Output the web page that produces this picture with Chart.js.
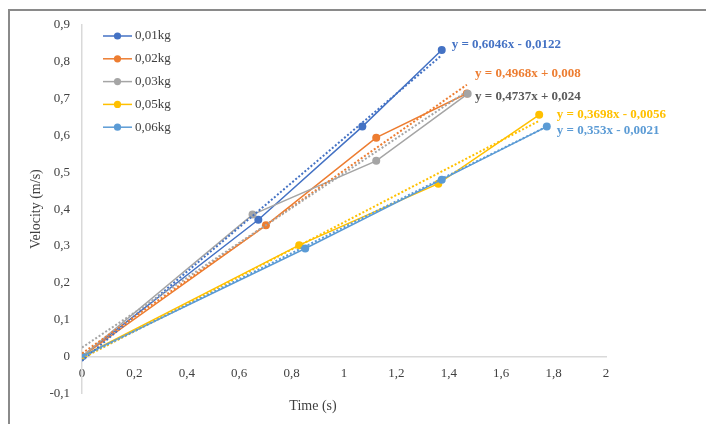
<!DOCTYPE html>
<html>
<head>
<meta charset="utf-8">
<script src="https://cdn.jsdelivr.net/npm/chart.js@4/dist/chart.umd.min.js"></script>
<style>
  html, body { margin: 0; padding: 0; background: #fff; }
  #wrap { position: relative; width: 706px; height: 424px; overflow: hidden; }
  #frame { position: absolute; left: 8px; top: 9px; right: 0; bottom: 0; border-left: 2px solid #8a8a8a; border-top: 2px solid #8a8a8a; }
  canvas { position: absolute; left: 0; top: 0; }
</style>
</head>
<body>
<div id="wrap">
  <div id="frame"></div>
  <canvas id="chart" width="706" height="424"></canvas>
</div>
<script>
// velocity vs time, one series per mass
const seriesNames = ['0,01kg', '0,02kg', '0,03kg', '0,05kg', '0,06kg'];
const time01 = [0, 0.673, 1.070, 1.373];
const vel01  = [0, 0.371, 0.624, 0.832];
const time02 = [0, 0.702, 1.123, 1.469];
const vel02  = [0, 0.356, 0.594, 0.714];
const time03 = [0, 0.651, 1.123, 1.472];
const vel03  = [0, 0.385, 0.531, 0.713];
const time05 = [0, 0.829, 1.360, 1.745];
const vel05  = [0, 0.302, 0.469, 0.656];
const time06 = [0, 0.852, 1.373, 1.774];
const vel06  = [0, 0.293, 0.480, 0.624];

// linear trendlines as printed on the chart
const slopes     = [0.6046, 0.4968, 0.4737, 0.3698, 0.353];
const intercepts = [-0.0122, 0.008, 0.024, -0.0056, -0.0021];
const eqLabels = ['y = 0,6046x - 0,0122', 'y = 0,4968x + 0,008', 'y = 0,4737x + 0,024',
                  'y = 0,3698x - 0,0056', 'y = 0,353x - 0,0021'];

const xTickValues = [0, 0.2, 0.4, 0.6, 0.8, 1, 1.2, 1.4, 1.6, 1.8, 2];
const xTickLabels = ['0', '0,2', '0,4', '0,6', '0,8', '1', '1,2', '1,4', '1,6', '1,8', '2'];
const yTickValues = [-0.1, 0, 0.1, 0.2, 0.3, 0.4, 0.5, 0.6, 0.7, 0.8, 0.9];
const yTickLabels = ['-0,1', '0', '0,1', '0,2', '0,3', '0,4', '0,5', '0,6', '0,7', '0,8', '0,9'];

const colors = ['#4472C4', '#ED7D31', '#A5A5A5', '#FFC000', '#5B9BD5'];
const eqColors = ['#4472C4', '#ED7D31', '#595959', '#FFC000', '#5B9BD5'];
// where each equation text starts, in data units
const eqAnchors = [[1.411, 0.8455], [1.500, 0.769], [1.500, 0.705], [1.812, 0.656], [1.812, 0.613]];

const FONT = "'Liberation Serif', 'Times New Roman', serif";
const times = [time01, time02, time03, time05, time06];
const vels = [vel01, vel02, vel03, vel05, vel06];

const datasets = [];
seriesNames.forEach((name, i) => {
  datasets.push({
    label: name,
    data: times[i].map((t, j) => ({ x: t, y: vels[i][j] })),
    borderColor: colors[i], backgroundColor: colors[i],
    borderWidth: 1.5, pointRadius: 4, pointBorderWidth: 0, pointHoverRadius: 4,
    order: 20 - i
  });
});
seriesNames.forEach((name, i) => {
  const xEnd = times[i][times[i].length - 1];
  datasets.push({
    label: 'trend ' + name,
    data: [0, xEnd].map(x => ({ x: x, y: slopes[i] * x + intercepts[i] })),
    borderColor: colors[i], borderWidth: 2, borderDash: [2, 2],
    pointRadius: 0, order: 10 - i
  });
});

const overlay = {
  id: 'overlay',
  afterDraw(chart) {
    const ctx = chart.ctx, xs = chart.scales.x, ys = chart.scales.y;
    ctx.save();
    // equations
    ctx.font = 'bold 13px ' + FONT;
    ctx.textBaseline = 'middle';
    ctx.textAlign = 'left';
    eqLabels.forEach((t, i) => {
      ctx.fillStyle = eqColors[i];
      ctx.fillText(t, xs.getPixelForValue(eqAnchors[i][0]), ys.getPixelForValue(eqAnchors[i][1]));
    });
    // legend
    ctx.font = '13px ' + FONT;
    seriesNames.forEach((name, i) => {
      const y = 36 + i * 22.8;
      ctx.strokeStyle = colors[i];
      ctx.lineWidth = 1.5;
      ctx.beginPath(); ctx.moveTo(103, y); ctx.lineTo(132, y); ctx.stroke();
      ctx.fillStyle = colors[i];
      ctx.beginPath(); ctx.arc(117.5, y, 3.6, 0, Math.PI * 2); ctx.fill();
      ctx.fillStyle = '#404040';
      ctx.fillText(name, 135, y);
    });
    ctx.restore();
  }
};

new Chart(document.getElementById('chart'), {
  type: 'line',
  data: { datasets: datasets },
  options: {
    responsive: false, animation: false, devicePixelRatio: 1,
    layout: { padding: { left: 20, right: 100, top: 25, bottom: 2 } },
    plugins: {
      legend: { display: false }, tooltip: { enabled: false },
      title: { display: true, position: 'bottom', text: 'Time (s)', color: '#404040',
               font: { family: FONT, size: 14, weight: 'normal' }, padding: { top: 5, bottom: 7 } }
    },
    scales: {
      x: {
        type: 'linear', min: 0, max: 2, position: { y: 0 },
        grid: { display: false, drawTicks: false, tickLength: 0 },
        border: { display: true, color: '#d9d9d9', width: 1.5 },
        afterBuildTicks: s => { s.ticks = xTickValues.map(v => ({ value: v })); },
        ticks: { padding: 9, color: '#404040', font: { family: FONT, size: 13 },
                 maxRotation: 0, autoSkip: false, callback: (v, i) => xTickLabels[i] }
      },
      y: {
        type: 'linear', min: -0.1, max: 0.9, position: 'left',
        grid: { display: false, drawTicks: false, tickLength: 0 },
        border: { display: true, color: '#d9d9d9', width: 1.5 },
        afterBuildTicks: s => { s.ticks = yTickValues.map(v => ({ value: v })); },
        afterFit: s => { s.width = 62; },
        ticks: { padding: 12, color: '#404040', font: { family: FONT, size: 13 },
                 autoSkip: false, callback: (v, i) => yTickLabels[i] },
        title: { display: true, text: 'Velocity (m/s)', color: '#404040',
                 font: { family: FONT, size: 14 }, padding: { top: 8, bottom: 0 } }
      }
    }
  },
  plugins: [overlay]
});
</script>
</body>
</html>
